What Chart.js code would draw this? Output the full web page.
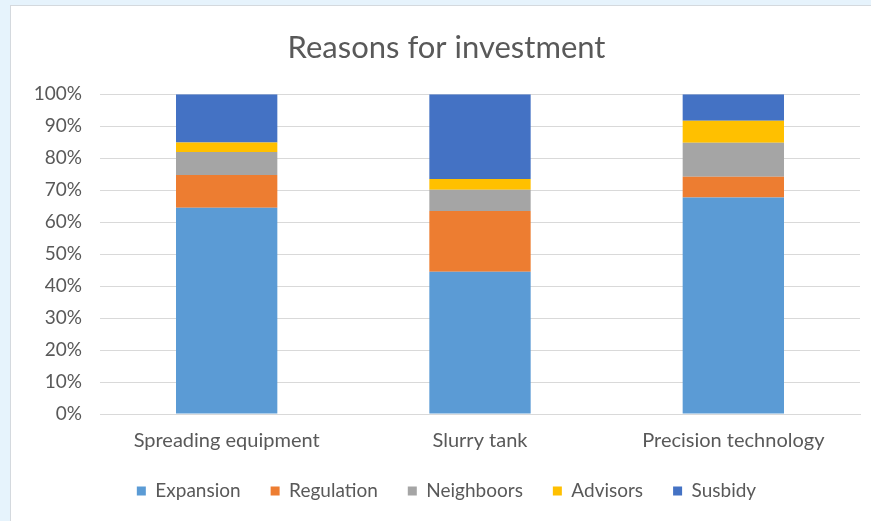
<!DOCTYPE html>
<html>
<head>
<meta charset="utf-8">
<script src="https://cdn.jsdelivr.net/npm/chart.js@4"></script>
<style>
  html, body { margin: 0; padding: 0; width: 871px; height: 521px; overflow: hidden; background: #e6f3fc; }
  #card { position: absolute; left: 10px; top: 5px; width: 875px; height: 530px; background: #ffffff; border-top: 1px solid #d4d9de; border-left: 1px solid #d4d9de; }
  #wrap { position: absolute; left: 0; top: 0; width: 871px; height: 521px; }
</style>
</head>
<body>
<div id="card"></div>
<div id="wrap"><canvas id="c" width="871" height="521"></canvas></div>
<script>
const categories = ["Spreading equipment", "Slurry tank", "Precision technology"];
const seriesNames = ["Expansion", "Regulation", "Neighboors", "Advisors", "Susbidy"];
const expansion  = [64.5, 44.5, 67.7];
const regulation = [10.2, 19.0, 6.5];
const neighboors = [7.2, 6.6, 10.6];
const advisors   = [3.0, 3.4, 6.9];
const subsidy    = [15.1, 26.5, 8.3];
const yTicks = [0, 10, 20, 30, 40, 50, 60, 70, 80, 90, 100];

const colors = ["#5B9BD5", "#ED7D31", "#A5A5A5", "#FFC000", "#4472C4"];
const values = [expansion, regulation, neighboors, advisors, subsidy];
const FONT = "Lato, 'Open Sans', sans-serif";
const TXT = "#595959";

new Chart(document.getElementById('c'), {
  type: 'bar',
  data: {
    labels: categories,
    datasets: seriesNames.map((n, i) => ({
      label: n,
      data: values[i],
      backgroundColor: colors[i],
      borderWidth: 0,
      barPercentage: 0.4,
      categoryPercentage: 1.0
    }))
  },
  options: {
    responsive: false,
    animation: false,
    devicePixelRatio: 1,
    layout: { padding: { top: 0, right: 11, bottom: 10.5, left: 33 } },
    plugins: {
      title: {
        display: true,
        text: "Reasons for investment",
        color: TXT,
        font: { family: FONT, size: 31, weight: 'normal' },
        padding: { top: 29, bottom: 28 }
      },
      legend: {
        position: 'bottom',
        labels: {
          color: TXT,
          font: { family: FONT, size: 19 },
          boxWidth: 9,
          boxHeight: 9,
          padding: 30
        }
      },
      tooltip: { enabled: false }
    },
    scales: {
      x: {
        stacked: true,
        grid: { display: false, drawTicks: false },
        border: { display: true, color: "#d9d9d9" },
        ticks: { color: TXT, font: { family: FONT, size: 20 }, padding: 15, maxRotation: 0 },
        afterFit: s => { s.height = 37.5; }
      },
      y: {
        stacked: true,
        min: 0,
        max: 100,
        afterBuildTicks: s => { s.ticks = yTicks.map(v => ({ value: v })); },
        grid: { color: "#d9d9d9", lineWidth: 1, drawTicks: false },
        border: { display: false },
        ticks: { color: TXT, font: { family: FONT, size: 19 }, padding: 18, callback: v => v + '%' },
        afterFit: s => { s.width = 67; }
      }
    }
  }
});
</script>
</body>
</html>
